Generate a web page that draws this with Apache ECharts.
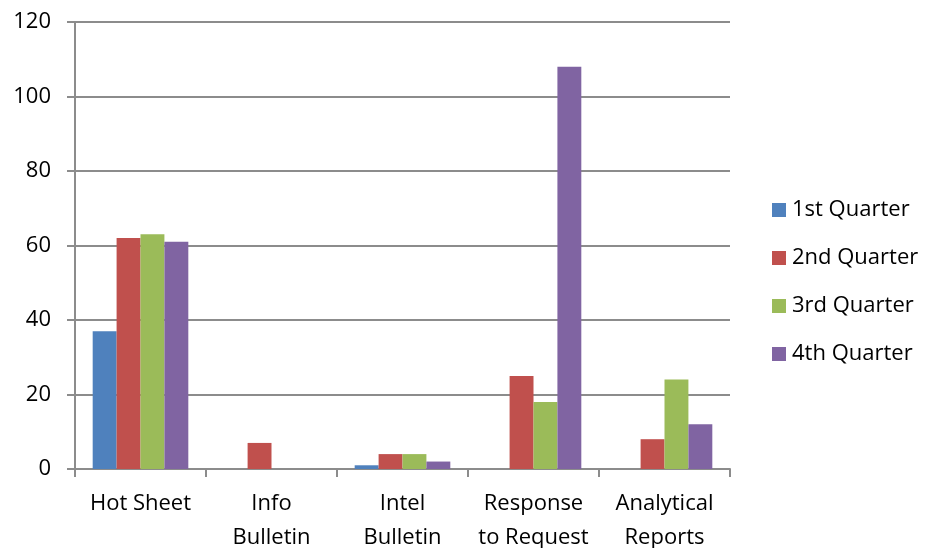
<!DOCTYPE html>
<html>
<head>
<meta charset="utf-8">
<script src="https://cdn.jsdelivr.net/npm/echarts@6/dist/echarts.min.js"></script>
<style>
  html, body { margin: 0; padding: 0; background: #fff; }
  #chart { width: 928px; height: 548px; }
</style>
</head>
<body>
<div id="chart"></div>
<script>
// Report counts by product type, per quarter
const categories = ['Hot Sheet', 'Info\nBulletin', 'Intel\nBulletin', 'Response\nto Request', 'Analytical\nReports'];
const q1 = [37, 0, 1, 0, 0];
const q2 = [62, 7, 4, 25, 8];
const q3 = [63, 0, 4, 18, 24];
const q4 = [61, 0, 2, 108, 12];
const seriesNames = ['1st Quarter', '2nd Quarter', '3rd Quarter', '4th Quarter'];
const seriesColors = ['#4F81BD', '#C0504D', '#9BBB59', '#8064A2'];
const yTicks = { min: 0, max: 120, interval: 20 };

const font = "'Open Sans', 'Liberation Sans', sans-serif";
const values = [q1, q2, q3, q4];
const axisGrey = '#8C8C8C';

const chart = echarts.init(document.getElementById('chart'));
chart.setOption({
  animation: false,
  textStyle: { fontFamily: font },
  grid: { left: 75, right: 198, top: 22, bottom: 79, containLabel: false, outerBoundsMode: 'none' },
  legend: {
    orient: 'vertical',
    left: 772,
    top: 199,
    padding: 0,
    itemWidth: 14,
    itemHeight: 14,
    itemGap: 26,
    icon: 'rect',
    textStyle: { fontSize: 22, color: '#000', fontFamily: font, padding: [0, 0, 0, 1] },
    data: seriesNames
  },
  xAxis: {
    type: 'category',
    data: categories,
    axisLine: { lineStyle: { color: axisGrey, width: 2 } },
    axisTick: { show: true, length: 8, interval: 0, lineStyle: { color: axisGrey, width: 2 } },
    axisLabel: { color: '#000', fontSize: 22, lineHeight: 34, margin: 18, interval: 0, fontFamily: font }
  },
  yAxis: {
    type: 'value',
    min: yTicks.min,
    max: yTicks.max,
    interval: yTicks.interval,
    axisLine: { show: true, lineStyle: { color: axisGrey, width: 2 } },
    axisTick: { show: true, length: 8, lineStyle: { color: axisGrey, width: 2 } },
    splitLine: { lineStyle: { color: axisGrey, width: 2 } },
    axisLabel: { color: '#000', fontSize: 22, margin: 24, fontFamily: font }
  },
  series: seriesNames.map((name, i) => ({
    name,
    type: 'bar',
    data: values[i],
    barGap: '0%',
    barCategoryGap: '27%',
    itemStyle: { color: seriesColors[i] }
  }))
});
</script>
</body>
</html>
